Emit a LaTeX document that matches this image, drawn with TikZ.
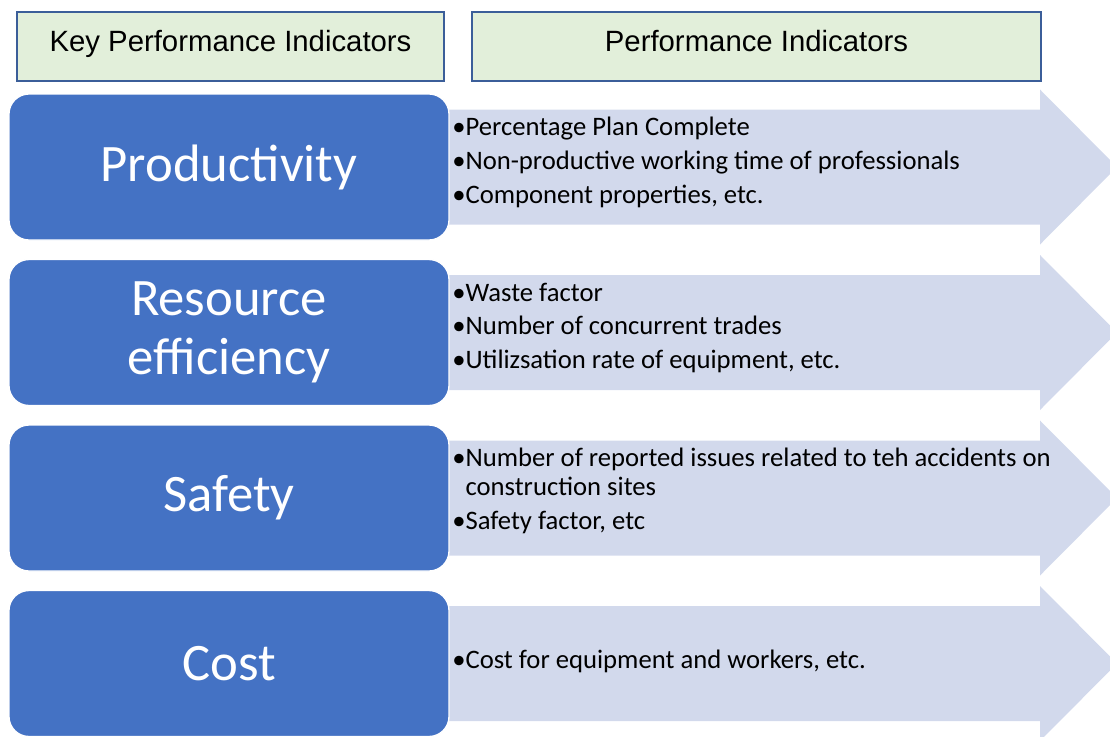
\documentclass[tikz,border=0pt]{standalone}
\usepackage{fontspec}
\setmainfont{Carlito}
\newfontfamily\headfont{Liberation Sans}
\usetikzlibrary{positioning}

\definecolor{kpiblue}{HTML}{4472C4}
\definecolor{bandblue}{HTML}{D2D9EC}
\definecolor{headgreen}{HTML}{E2EFDA}
\definecolor{headline}{HTML}{3B5E99}

\begin{document}
\begin{tikzpicture}[
    x=0.75pt, y=-0.75pt,
    header/.style={rectangle, draw=headline, fill=headgreen, line width=1.5pt,
                   minimum height=51.75pt, text height=12pt, text depth=4.5pt,
                   font=\headfont\fontsize{22}{26}\selectfont},
    kpi/.style={rectangle, rounded corners=15pt, draw=white, line width=1pt, fill=kpiblue,
                text=white, minimum width=330pt, minimum height=109.5pt, align=center,
                font=\fontsize{39.5}{44.5}\selectfont},
    band/.style={fill=bandblue},
    items/.style={anchor=west, inner sep=0pt, align=left, font=\fontsize{20}{25.5}\selectfont}
]
\clip (0,0) rectangle (1110,736);

% --- Column headers ---
\node[header, minimum width=320.25pt] (kpihead) at (230.5,46.5) {Key Performance Indicators};
\node[header, minimum width=426.75pt] (pihead) at (756.5,46.5) {Performance Indicators};

% --- Arrow bands ---
\fill[band] (440,109.5) -- (1040,109.5) -- (1040,89.5) -- (1117,167) -- (1040,244.5) -- (1040,224.5) -- (440,224.5) -- cycle;
\fill[band] (440,275) -- (1040,275) -- (1040,255) -- (1117,332.5) -- (1040,410) -- (1040,390) -- (440,390) -- cycle;
\fill[band] (440,440.5) -- (1040,440.5) -- (1040,420.5) -- (1117,498) -- (1040,575.5) -- (1040,555.5) -- (440,555.5) -- cycle;
\fill[band] (440,606) -- (1040,606) -- (1040,586) -- (1117,663.5) -- (1040,741) -- (1040,721) -- (440,721) -- cycle;

% --- Key indicators ---
\node[kpi] (productivity) at (229,167) {Productivity};
\node[kpi] (resource) at (229,332.5) {Resource\\efficiency};
\node[kpi] (safety) at (229,498) {Safety};
\node[kpi] (cost) at (229,663.5) {Cost};

% --- Indicator lists ---
\node[items] (prodlist) at (452,162.5) {•Percentage Plan Complete\\•Non-productive working time of professionals\\•Component properties, etc.};
\node[items] (reslist) at (452,328) {•Waste factor\\•Number of concurrent trades\\•Utilizsation rate of equipment, etc.};
\node[items] (safelist) at (452,491) {•Number of reported issues related to teh accidents on\\[-3.75pt]\phantom{•}construction sites\\•Safety factor, etc};
\node[items] (costlist) at (452,661.5) {•Cost for equipment and workers, etc.};

\end{tikzpicture}
\end{document}
